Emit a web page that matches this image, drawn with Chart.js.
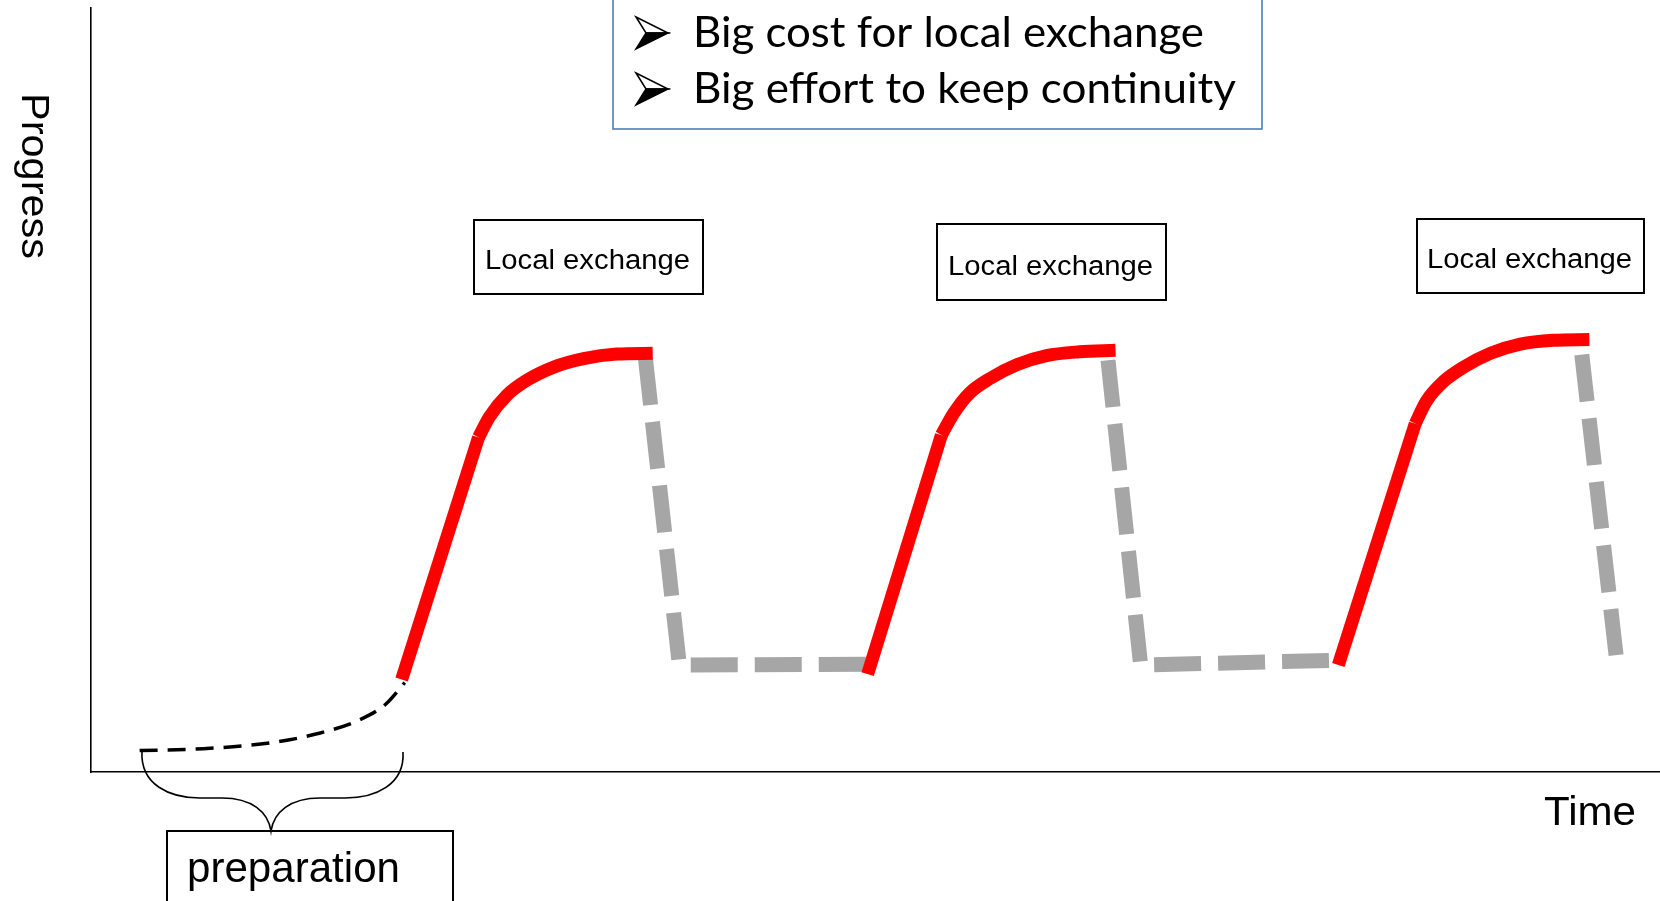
<!DOCTYPE html>
<html>
<head>
  <meta charset="utf-8">
  <script src="https://cdn.jsdelivr.net/npm/chart.js@4.4.1/dist/chart.umd.min.js"></script>
  <style>
    html, body { margin: 0; padding: 0; background: #fff; }
    #holder { width: 1660px; height: 901px; position: relative; }
  </style>
</head>
<body>
<div id="holder">
  <canvas id="chart-area"></canvas>
</div>

<script>
// time / progress in percent of the axis span
var prepTime = [3.1, 7.6, 11.7, 14.4, 17.1, 18.8, 20.0];
var prepProgress = [2.8, 3.1, 3.9, 5.0, 6.8, 8.9, 11.7];

var riseTime = [[19.8, 24.7], [49.5, 54.2], [79.5, 84.4]];
var riseProgress = [[12.1, 43.8], [12.8, 44.1], [14.0, 45.6]];

var exchangeTime = [
  [24.7, 25.4, 26.5, 27.8, 29.5, 31.4, 33.5, 35.8],
  [54.2, 55.0, 56.0, 57.3, 59.0, 60.9, 63.0, 65.3],
  [84.4, 85.1, 86.2, 87.5, 89.2, 91.1, 93.2, 95.5]
];
var exchangeProgress = [
  [43.8, 46.5, 49.3, 51.3, 53.0, 54.1, 54.7, 54.8],
  [44.1, 47.0, 49.6, 51.5, 53.3, 54.5, 55.0, 55.2],
  [45.6, 48.5, 51.1, 53.0, 54.8, 56.0, 56.5, 56.6]
];

var dropTime = [[35.3, 37.5, 49.4], [64.75, 66.9, 78.9], [94.9, 97.2]];
var dropProgress = [[54.8, 14.0, 14.1], [55.2, 14.0, 14.6], [56.7, 15.3]];

var axisTitles = ['Time', 'Progress'];
var stepLabel = 'Local exchange';
var prepLabel = 'preparation';
var notes = ['Big cost for local exchange', 'Big effort to keep continuity'];

function pts(xs, ys) {
  return xs.map(function(x, i) { return { x: x, y: ys[i] }; });
}

var datasets = [];
datasets.push({
  data: pts(prepTime, prepProgress),
  borderColor: '#000', borderWidth: 3.5, borderDash: [18, 10],
  cubicInterpolationMode: 'monotone'
});
riseTime.forEach(function(t, i) {
  datasets.push({
    data: pts(t, riseProgress[i]),
    borderColor: '#ff0000', borderWidth: 13, tension: 0
  });
  datasets.push({
    data: pts(exchangeTime[i], exchangeProgress[i]),
    borderColor: '#ff0000', borderWidth: 13, cubicInterpolationMode: 'monotone'
  });
});
// shift the dash phase so the gaps land where they do in the picture
var dashOffsets = [59, 54, 48];
dropTime.forEach(function(t, i) {
  datasets.push({
    data: pts(t, dropProgress[i]),
    borderColor: '#a6a6a6', borderWidth: 15, borderDash: [47, 17],
    borderDashOffset: dashOffsets[i], tension: 0
  });
});

// draw text squeezed/stretched to a given width
function fitText(ctx, text, x, y, w, font) {
  ctx.font = font;
  var m = ctx.measureText(text).width;
  ctx.save();
  ctx.translate(x, y);
  ctx.scale(w / m, 1);
  ctx.textAlign = 'left';
  ctx.textBaseline = 'middle';
  ctx.fillText(text, 0, 0);
  ctx.restore();
}

function arrowHead(ctx, x, y) {
  ctx.lineWidth = 1.5;
  ctx.strokeStyle = '#000';
  ctx.beginPath();
  ctx.moveTo(x, y - 16); ctx.lineTo(x + 32, y); ctx.lineTo(x + 10, y); ctx.closePath();
  ctx.fillStyle = '#fff'; ctx.fill(); ctx.stroke();
  ctx.beginPath();
  ctx.moveTo(x + 10, y); ctx.lineTo(x + 32, y); ctx.lineTo(x, y + 16); ctx.closePath();
  ctx.fillStyle = '#000'; ctx.fill(); ctx.stroke();
}

var decor = {
  id: 'decor',
  afterDraw: function(chart) {
    var ctx = chart.ctx;
    ctx.save();
    ctx.fillStyle = '#000';

    // axis titles
    fitText(ctx, axisTitles[0], 1544, 814, 92, '40px "Liberation Sans"');
    ctx.save();
    ctx.translate(32, 93);
    ctx.rotate(Math.PI / 2);
    fitText(ctx, axisTitles[1], 0, 0, 166, '38px "Liberation Sans"');
    ctx.restore();

    // local exchange boxes
    ctx.strokeStyle = '#000';
    ctx.lineWidth = 2;
    [[474, 220, 229, 74, 485, 262], [937, 224, 229, 76, 948, 268], [1417, 219, 227, 74, 1427, 261]].forEach(function(b) {
      ctx.strokeRect(b[0], b[1], b[2], b[3]);
      ctx.fillStyle = '#000';
      fitText(ctx, stepLabel, b[4], b[5], 205, '27px "Liberation Sans"');
    });

    // preparation brace + box
    ctx.lineWidth = 1.6;
    ctx.beginPath();
    ctx.moveTo(142, 751);
    ctx.bezierCurveTo(140, 785, 170, 798, 200, 798);
    ctx.lineTo(222, 798);
    ctx.bezierCurveTo(252, 798, 268, 812, 271, 831);
    ctx.bezierCurveTo(274, 812, 290, 798, 320, 798);
    ctx.lineTo(345, 798);
    ctx.bezierCurveTo(375, 798, 405, 785, 403, 752);
    ctx.stroke();
    ctx.lineWidth = 2;
    ctx.strokeRect(167, 831, 286, 80);
    fitText(ctx, prepLabel, 187, 870, 213, '42px "Liberation Sans"');

    // notes box
    ctx.strokeStyle = '#4a7ebb';
    ctx.lineWidth = 1.6;
    ctx.strokeRect(613, -4, 649, 133);
    arrowHead(ctx, 636, 33);
    arrowHead(ctx, 636, 89);
    ctx.fillStyle = '#000';
    fitText(ctx, notes[0], 693, 33, 511, '42px Lato');
    fitText(ctx, notes[1], 693, 89, 543, '42px Lato');

    ctx.restore();
  }
};

var config = {
  type: 'line',
  data: { datasets: datasets },
  options: {
    responsive: true,
    maintainAspectRatio: false,
    animation: false,
    layout: { padding: { left: 91, top: 8, right: 0, bottom: 129 } },
    elements: { point: { radius: 0, hoverRadius: 0 }, line: { borderCapStyle: 'butt' } },
    plugins: { legend: { display: false }, tooltip: { enabled: false } },
    scales: {
      x: {
        type: 'linear', min: 0, max: 100,
        grid: { display: false },
        border: { display: true, color: '#000', width: 1.6 },
        ticks: { display: false },
        afterFit: function(s) { s.height = 0; }
      },
      y: {
        type: 'linear', min: 0, max: 100,
        grid: { display: false },
        border: { display: true, color: '#000', width: 1.6 },
        ticks: { display: false },
        afterFit: function(s) { s.width = 0; }
      }
    }
  },
  plugins: [decor]
};

window.onload = function() {
  var ctx = document.getElementById('chart-area').getContext('2d');
  window.myChart = new Chart(ctx, config);
};
</script>
</body>
</html>
